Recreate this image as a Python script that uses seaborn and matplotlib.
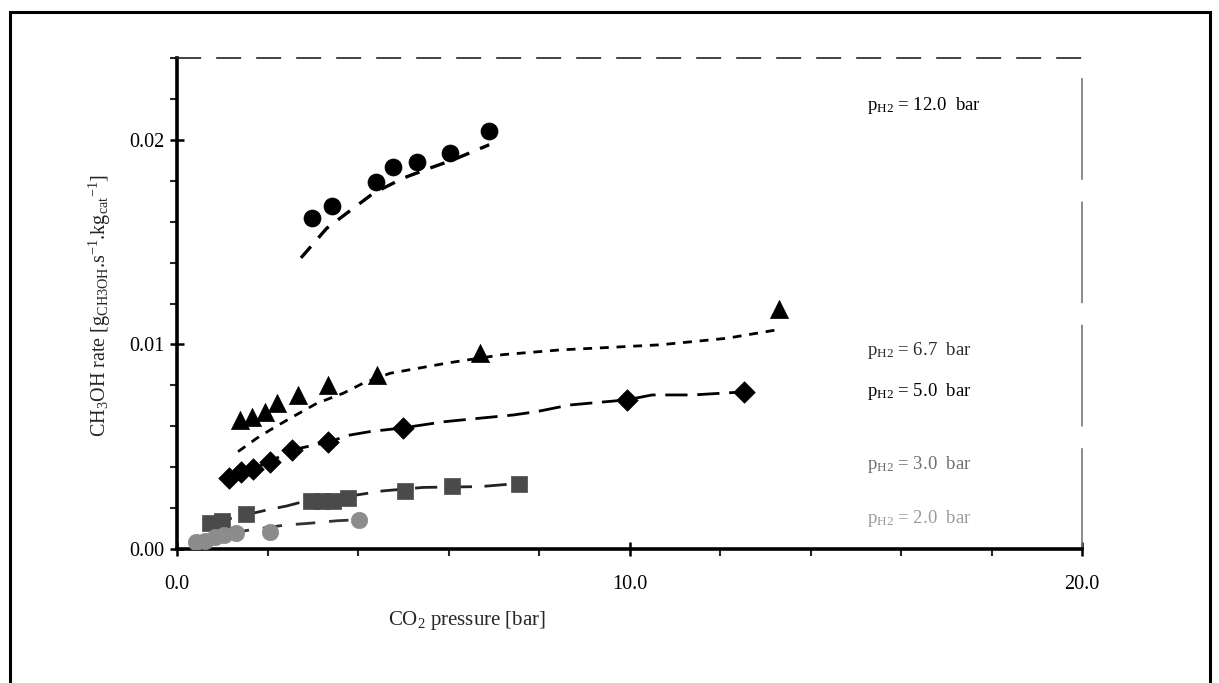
import matplotlib
matplotlib.use("Agg")
import matplotlib.pyplot as plt
import matplotlib.patches as mpatches
import seaborn as sns
import pandas as pd

# Measured methanol rates at five hydrogen partial pressures
p_co2_h12 = [2.98, 3.43, 4.39, 4.78, 5.30, 6.03, 6.90]
rate_h12 = [0.01617, 0.01677, 0.01796, 0.01869, 0.01894, 0.01935, 0.02045]

p_co2_h67 = [1.39, 1.65, 1.94, 2.22, 2.68, 3.34, 4.41, 6.70, 13.30]
rate_h67 = [0.00631, 0.00647, 0.00671, 0.00712, 0.00753, 0.00802, 0.00851, 0.00960, 0.01175]

p_co2_h50 = [1.15, 1.41, 1.68, 2.06, 2.54, 3.34, 4.99, 9.94, 12.53]
rate_h50 = [0.00347, 0.00377, 0.00391, 0.00425, 0.00484, 0.00523, 0.00592, 0.00729, 0.00768]

p_co2_h30 = [0.73, 0.99, 1.52, 2.96, 3.20, 3.45, 3.78, 5.04, 6.08, 7.56]
rate_h30 = [0.00127, 0.00137, 0.00171, 0.00235, 0.00235, 0.00235, 0.00249, 0.00284, 0.00308, 0.00318]

p_co2_h20 = [0.42, 0.62, 0.84, 1.04, 1.30, 2.06, 4.02]
rate_h20 = [0.00034, 0.00039, 0.00059, 0.00068, 0.00078, 0.00083, 0.00140]

# Model curves
fit_x_h12 = [2.74, 3.31, 4.34, 5.00, 5.59, 6.10, 6.90]
fit_y_h12 = [0.01423, 0.01568, 0.01739, 0.01813, 0.01862, 0.01902, 0.01976]

fit_x_h67 = [1.35, 1.76, 2.06, 2.50, 3.09, 3.67, 4.11, 4.71, 6.00, 7.20, 8.46, 10.67, 12.15, 13.25]
fit_y_h67 = [0.00476, 0.00541, 0.00582, 0.00639, 0.00712, 0.00761, 0.00810, 0.00859, 0.00910, 0.00950, 0.00973, 0.00998, 0.01030, 0.01071]

fit_x_h50 = [1.15, 1.50, 2.00, 2.54, 3.34, 3.82, 4.27, 4.99, 5.90, 6.72, 7.43, 7.96, 8.68, 9.94, 10.50, 11.40, 12.15, 12.53]
fit_y_h50 = [0.00347, 0.00380, 0.00420, 0.00484, 0.00523, 0.00557, 0.00574, 0.00592, 0.00622, 0.00640, 0.00655, 0.00672, 0.00704, 0.00729, 0.00753, 0.00753, 0.00763, 0.00768]

fit_x_h30 = [0.73, 1.20, 1.70, 2.05, 2.42, 2.78, 3.97, 4.55, 5.44, 6.70, 7.36]
fit_y_h30 = [0.00127, 0.00150, 0.00176, 0.00194, 0.00210, 0.00231, 0.00264, 0.00284, 0.00301, 0.00305, 0.00317]

fit_x_h20 = [0.45, 1.00, 1.61, 2.39, 2.94, 3.53, 4.00]
fit_y_h20 = [0.00040, 0.00070, 0.00093, 0.00117, 0.00126, 0.00138, 0.00143]

series_labels = ["12.0", "6.7", "5.0", "3.0", "2.0"]
label_rate = [0.0217, 0.00968, 0.00768, 0.00411, 0.00147]
label_colors = ["#000000", "#2a2a2a", "#000000", "#6e6e6e", "#9a9a9a"]

x_ticks = [0.0, 10.0, 20.0]
y_ticks = [0.00, 0.01, 0.02]

sns.set_theme(style="white")
plt.rcParams["font.family"] = ["Liberation Serif", "DejaVu Serif"]
plt.rcParams["mathtext.fontset"] = "custom"
plt.rcParams["mathtext.rm"] = "Liberation Serif"
plt.rcParams["mathtext.it"] = "Liberation Serif"
plt.rcParams["mathtext.default"] = "rm"

fig = plt.figure(figsize=(12.19, 6.83), dpi=100)
ax = fig.add_axes([177 / 1219, 1 - 549 / 683, (1082 - 177) / 1219, (549 - 58) / 683])

# Model curves
curves = [
    (fit_x_h12, fit_y_h12, (4.5, 3.5), 2.4),
    (fit_x_h67, fit_y_h67, (3.2, 2.8), 2.0),
    (fit_x_h50, fit_y_h50, (8.0, 3.5), 2.0),
    (fit_x_h30, fit_y_h30, (8.0, 4.5), 2.0),
    (fit_x_h20, fit_y_h20, (7.0, 5.0), 2.0),
]
curve_colors = ["#000000", "#000000", "#000000", "#222222", "#333333"]
for (cx, cy, dash, lw), col in zip(curves, curve_colors):
    df = pd.DataFrame({"x": cx, "y": cy})
    sns.lineplot(data=df, x="x", y="y", ax=ax, color=col, lw=lw,
                 sort=False, estimator=None, zorder=2)
    ax.lines[-1].set_dashes(dash)

# Measured points
points = [
    (p_co2_h12, rate_h12, "o", "#000000", 150),
    (p_co2_h67, rate_h67, "^", "#000000", 170),
    (p_co2_h50, rate_h50, "D", "#000000", 120),
    (p_co2_h30, rate_h30, "s", "#4a4a4a", 140),
    (p_co2_h20, rate_h20, "o", "#8c8c8c", 140),
]
for px, py, mk, col, s in points:
    df = pd.DataFrame({"x": px, "y": py})
    sns.scatterplot(data=df, x="x", y="y", ax=ax, marker=mk, color=col,
                    s=s, edgecolor=col, linewidth=0.5, zorder=3)

# Series annotations
for lab, yv, col in zip(series_labels, label_rate, label_colors):
    ax.text(15.25, yv, r"p$_{\mathregular{H2}}$ = " + lab + "  bar",
            fontsize=13.5, color=col, va="center", ha="left")

ax.set_xlim(0, 20)
ax.set_ylim(0, 0.024)
ax.set_xticks(x_ticks)
ax.set_xticklabels([f"{v:.1f}" for v in x_ticks])
ax.set_yticks(y_ticks)
ax.set_yticklabels([f"{v:.2f}" for v in y_ticks])
ax.set_xticks([2, 4, 6, 8, 12, 14, 16, 18], minor=True)
ax.set_yticks([0.002, 0.004, 0.006, 0.008, 0.012, 0.014, 0.016, 0.018, 0.022, 0.024], minor=True)
ax.tick_params(axis="both", which="major", direction="inout", length=10, width=1.8,
               labelsize=14.5, colors="black")
ax.tick_params(axis="both", which="minor", direction="out", length=5, width=1.5)
ax.tick_params(axis="x", which="major", pad=14)
ax.tick_params(axis="y", which="major", pad=4)
ax.tick_params(left=True, bottom=True, which="both")
ax.set_xlabel("")
ax.set_ylabel("")

for side in ["left", "bottom"]:
    ax.spines[side].set_linewidth(2.6)
    ax.spines[side].set_color("black")
ax.spines["top"].set_linewidth(1.2)
ax.spines["top"].set_color("#222222")
ax.spines["top"].set_linestyle((0, (14, 10)))
ax.spines["right"].set_linewidth(1.2)
ax.spines["right"].set_color("#777777")
ax.spines["right"].set_linestyle((0, (60, 14)))

fig.text(467 / 1219, 1 - 620 / 683, r"CO$_2$ pressure [bar]", fontsize=15,
         ha="center", va="center")
fig.text(100 / 1219, 1 - 305 / 683,
         r"CH$_3$OH rate [g$_{\mathregular{CH3OH}}$.s$^{-1}$.kg$_{\mathregular{cat}}$$^{-1}$]",
         fontsize=14.5, rotation=90, ha="center", va="center")

# Outer frame around the figure
frame = mpatches.Rectangle((10 / 1219, -0.05), 1200 / 1219, 1.05 - 12 / 683,
                           transform=fig.transFigure, fill=False, lw=2.2,
                           edgecolor="black", clip_on=False)
fig.patches.append(frame)

fig.savefig("out.png", dpi=100, facecolor="white")
